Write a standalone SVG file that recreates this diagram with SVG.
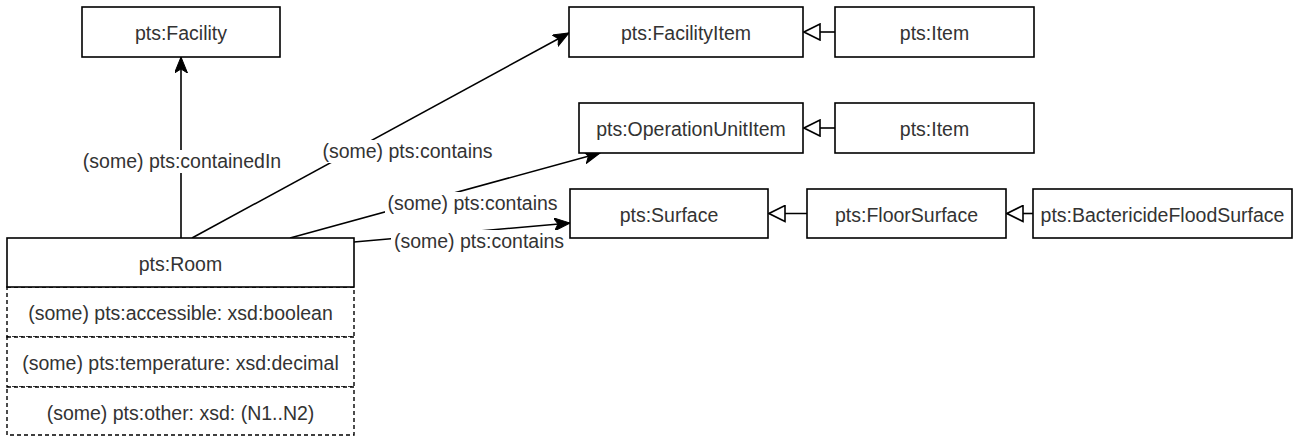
<svg xmlns="http://www.w3.org/2000/svg" width="1293" height="436" viewBox="0 0 1293 436">
<style>
.box{fill:#fff;stroke:#000;stroke-width:1.6}
.dbox{fill:#fff;stroke:#000;stroke-width:1.4;stroke-dasharray:4 3}
.t{font-family:"Liberation Sans",Arial,sans-serif;font-size:19.5px;fill:#333;text-anchor:middle}
.edge{fill:none;stroke:#000;stroke-width:1.6}
.assoc{marker-end:url(#arrow)}
.gen{marker-end:url(#tri)}
.lbg{fill:#fff;stroke:none}
</style>
<defs>
<marker id="arrow" markerUnits="userSpaceOnUse" markerWidth="17" markerHeight="14" refX="16" refY="6.5" orient="auto" viewBox="0 0 17 14">
<path d="M0,0 L16,6.5 L0,13 L4,6.5 Z" fill="#000" stroke="#000" stroke-width="1"/>
</marker>
<marker id="tri" markerUnits="userSpaceOnUse" markerWidth="18" markerHeight="18" refX="16" refY="8" orient="auto" viewBox="-1 -1 18 18">
<path d="M0,0 L16,8 L0,16 Z" fill="#fff" stroke="#000" stroke-width="1.6"/>
</marker>
</defs>
<g id="connectors">
<path class="edge assoc" d="M181,238 L181,57"/>
<path class="edge assoc" d="M192,238 L569,33"/>
<path class="edge assoc" d="M290,238 L600,153"/>
<path class="edge assoc" d="M354,242 L570,223"/>
<path class="edge gen" d="M835,32 L804,32"/>
<path class="edge gen" d="M835,128 L804,128"/>
<path class="edge gen" d="M807,213.5 L769,213.5"/>
<path class="edge gen" d="M1033,213.5 L1007,213.5"/>
<rect class="lbg" x="80" y="150" width="204" height="23"/>
<text class="t" x="182" y="168">(some) pts:containedIn</text>
<rect class="lbg" x="320" y="140" width="175" height="23"/>
<text class="t" x="407.5" y="158">(some) pts:contains</text>
<rect class="lbg" x="385" y="192" width="175" height="23"/>
<text class="t" x="472.5" y="210">(some) pts:contains</text>
<rect class="lbg" x="391" y="230" width="176" height="23"/>
<text class="t" x="479" y="248">(some) pts:contains</text>
</g>
<g id="facility"><rect class="box" x="82" y="7" width="198" height="50"/><text class="t" x="181" y="40">pts:Facility</text></g>
<g id="facilityItem"><rect class="box" x="569" y="7" width="234" height="50"/><text class="t" x="686" y="40">pts:FacilityItem</text></g>
<g id="item1"><rect class="box" x="835" y="7" width="199" height="50"/><text class="t" x="934.5" y="40">pts:Item</text></g>
<g id="operationUnitItem"><rect class="box" x="579" y="103" width="224" height="50"/><text class="t" x="691" y="136">pts:OperationUnitItem</text></g>
<g id="item2"><rect class="box" x="835" y="103" width="199" height="50"/><text class="t" x="934.5" y="136">pts:Item</text></g>
<g id="surface"><rect class="box" x="570" y="189" width="198" height="49"/><text class="t" x="669" y="221.5">pts:Surface</text></g>
<g id="floorSurface"><rect class="box" x="807" y="189" width="199" height="49"/><text class="t" x="906.5" y="221.5">pts:FloorSurface</text></g>
<g id="bactericideFloodSurface"><rect class="box" x="1033" y="189" width="259" height="49"/><text class="t" x="1162.5" y="221.5">pts:BactericideFloodSurface</text></g>
<g id="room">
<rect class="dbox" x="7" y="287" width="347" height="50"/>
<rect class="dbox" x="7" y="337" width="347" height="50"/>
<rect class="dbox" x="7" y="387" width="347" height="48"/>
<rect class="box" x="7" y="238" width="347" height="49"/>
<text class="t" x="180.5" y="270.5">pts:Room</text>
<text class="t" x="180.5" y="320">(some) pts:accessible: xsd:boolean</text>
<text class="t" x="180.5" y="370">(some) pts:temperature: xsd:decimal</text>
<text class="t" x="180.5" y="420">(some) pts:other: xsd: (N1..N2)</text>
</g>
</svg>
